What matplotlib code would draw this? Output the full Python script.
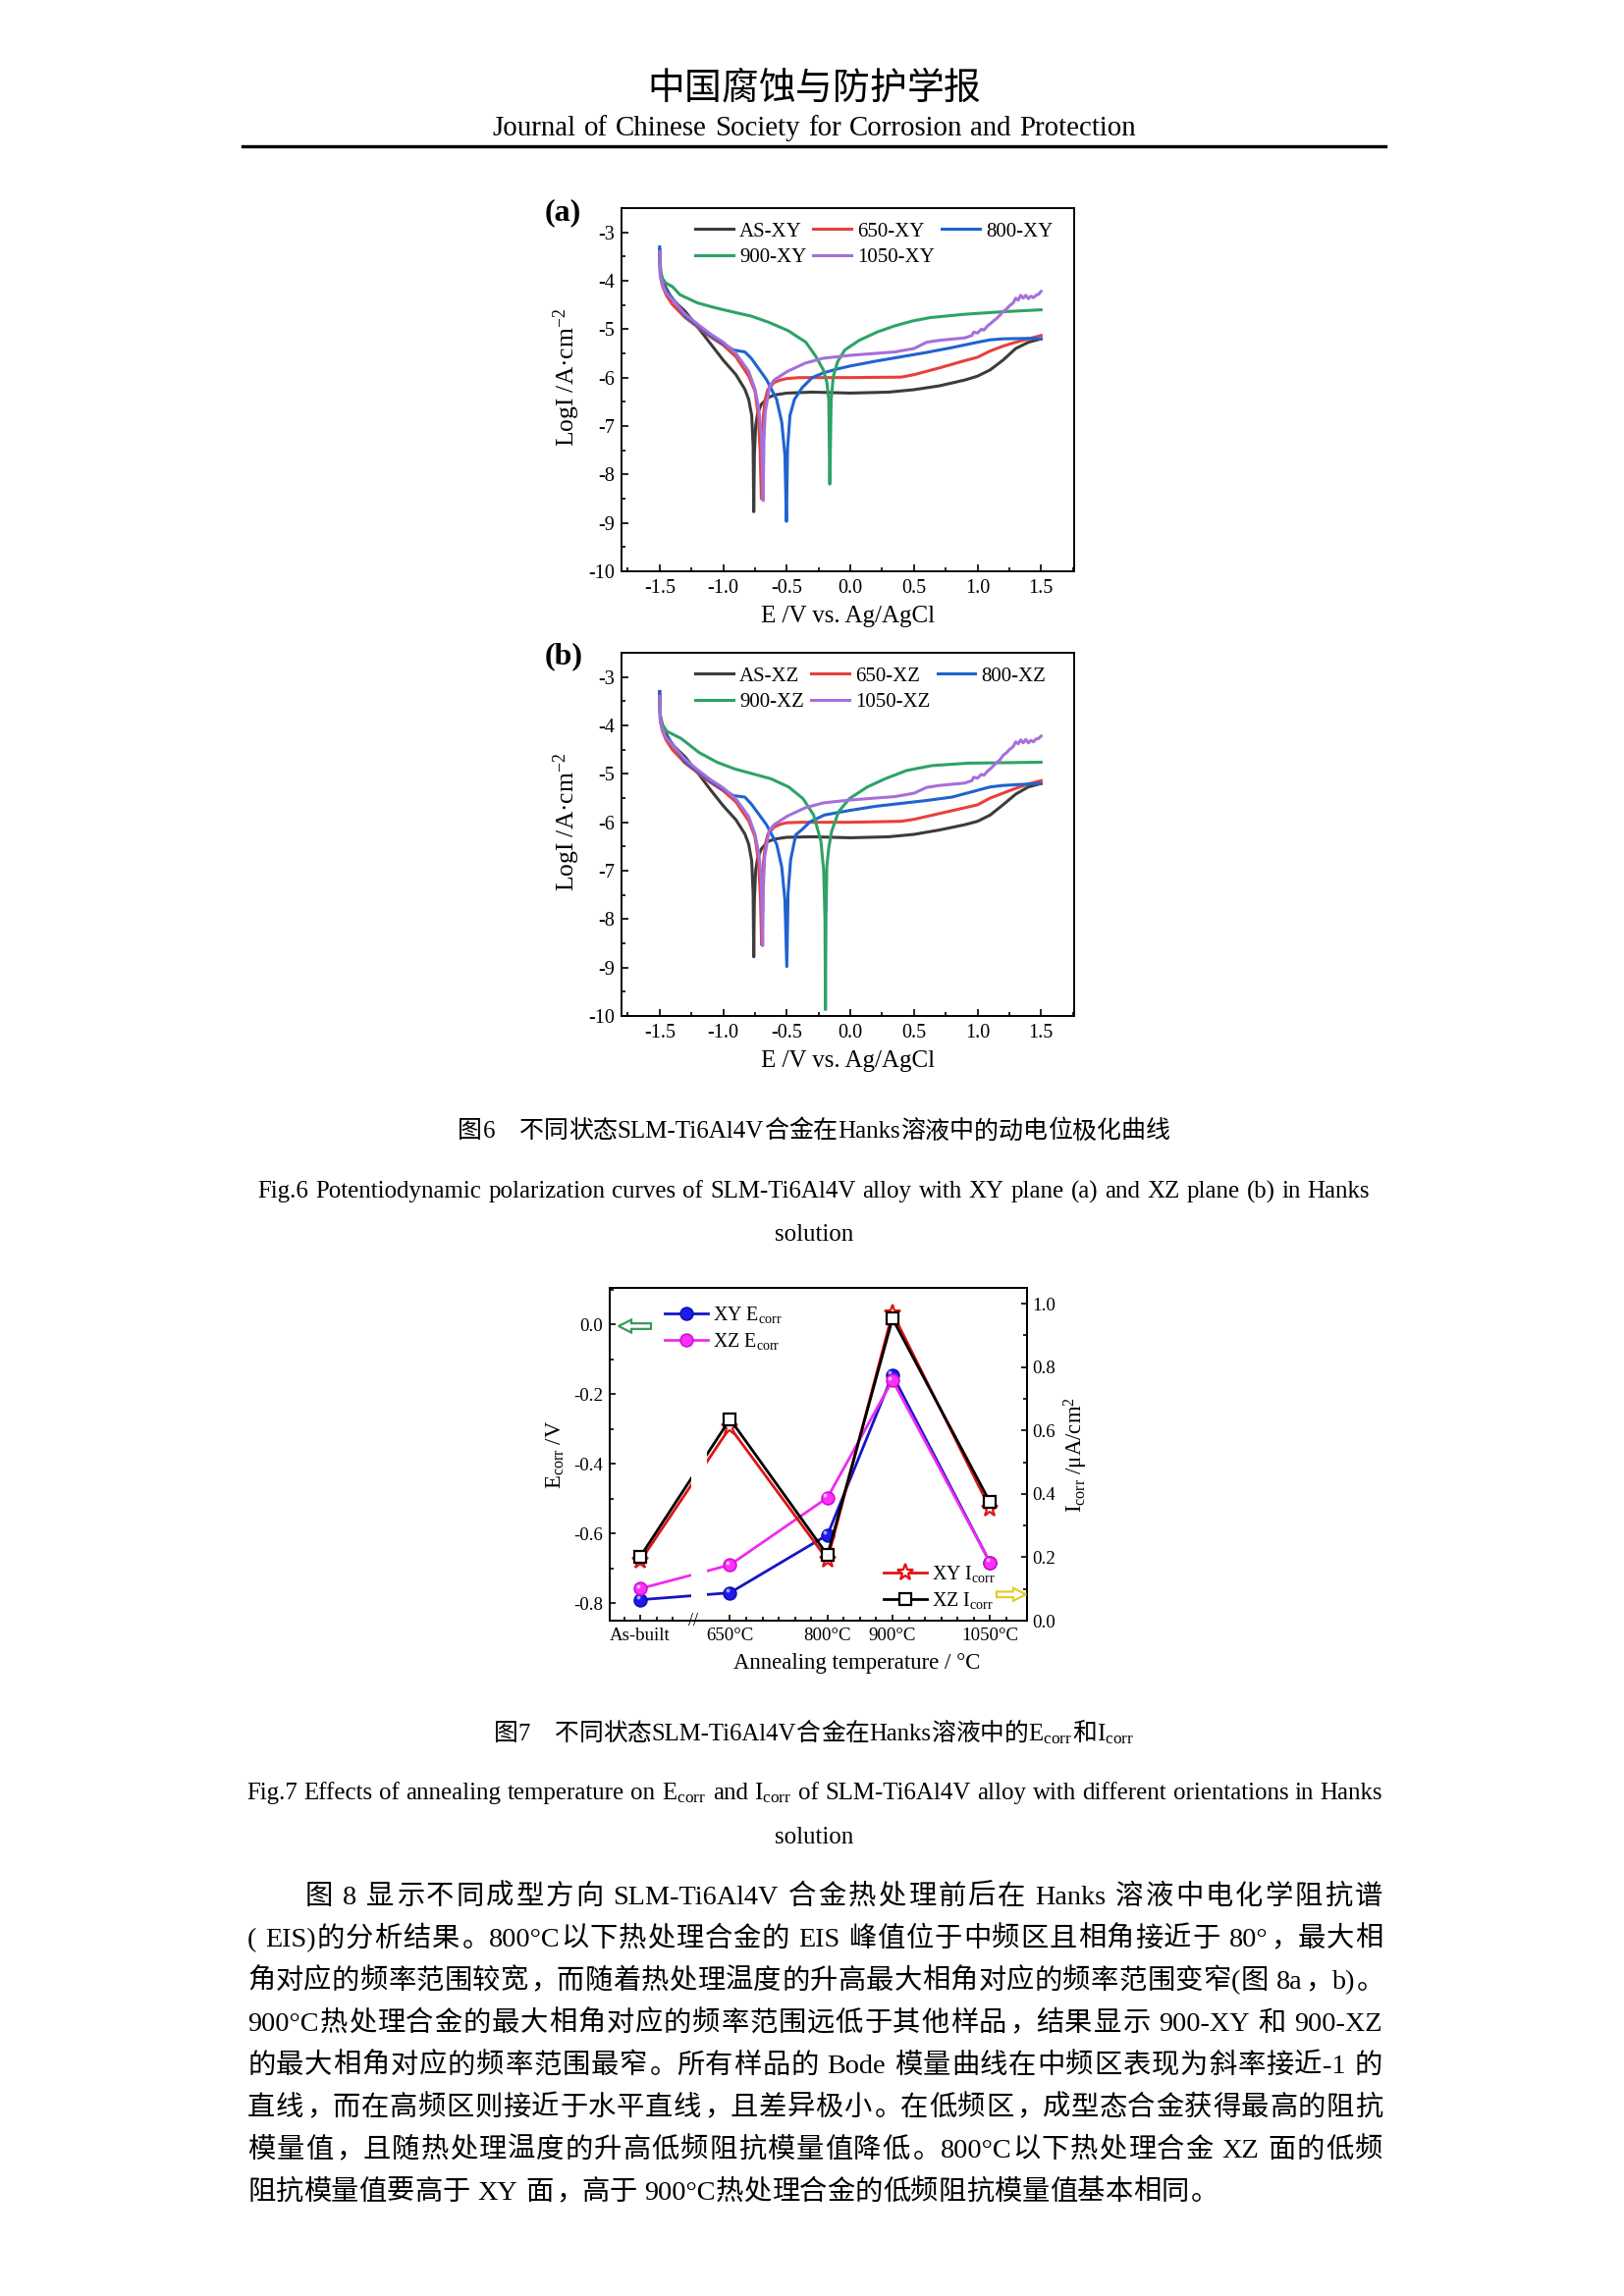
import matplotlib
matplotlib.use('Agg')
import matplotlib.pyplot as plt
from matplotlib.ticker import MultipleLocator, FixedLocator, FuncFormatter
from matplotlib.patches import FancyArrow
from matplotlib.lines import Line2D
import matplotlib.transforms as mtransforms

# ======================= DATA =======================
# Fig.6 (a) XY plane : potential E (V vs Ag/AgCl) and log current density
AS_XY_E = [-1.5, -1.495, -1.48, -1.45, -1.4, -1.3, -1.2, -1.1, -1.0, -0.9, -0.83, -0.8, -0.776, -0.765, -0.76,
           -0.755, -0.745, -0.73, -0.7, -0.65, -0.6, -0.5, -0.3, 0.0, 0.3, 0.5, 0.7, 0.9, 1.0, 1.1, 1.2, 1.3, 1.4, 1.5]
AS_XY_L = [-3.35, -3.8, -3.95, -4.15, -4.39, -4.63, -4.96, -5.3, -5.64, -5.94, -6.24, -6.45, -6.78, -7.4, -8.77,
           -7.6, -7.0, -6.75, -6.55, -6.42, -6.36, -6.32, -6.3, -6.32, -6.3, -6.25, -6.17, -6.05, -5.97, -5.84, -5.64,
           -5.4, -5.27, -5.2]

R650_XY_E = [-1.5, -1.495, -1.48, -1.45, -1.4, -1.3, -1.2, -1.1, -1.0, -0.9, -0.8, -0.75, -0.725, -0.71, -0.7,
             -0.695, -0.685, -0.67, -0.65, -0.6, -0.55, -0.5, -0.4, 0.0, 0.4, 0.5, 0.7, 0.9, 1.0, 1.1, 1.2, 1.3, 1.4, 1.5]
R650_XY_L = [-3.45, -3.9, -4.09, -4.29, -4.49, -4.76, -4.96, -5.16, -5.33, -5.57, -5.97, -6.28, -6.78, -7.5, -8.5,
             -7.5, -6.8, -6.45, -6.25, -6.1, -6.05, -6.02, -6.0, -6.0, -5.99, -5.94, -5.8, -5.65, -5.58, -5.45, -5.35,
             -5.27, -5.2, -5.13]

R800_XY_E = [-1.5, -1.495, -1.48, -1.45, -1.4, -1.3, -1.2, -1.1, -1.0, -0.92, -0.83, -0.78, -0.66, -0.58, -0.54,
             -0.515, -0.503, -0.494, -0.475, -0.44, -0.38, -0.3, -0.21, -0.1, 0.0, 0.2, 0.4, 0.6, 0.8, 1.0, 1.1, 1.2,
             1.4, 1.5]
R800_XY_L = [-3.3, -3.9, -4.02, -4.2, -4.36, -4.73, -4.93, -5.13, -5.3, -5.43, -5.47, -5.6, -6.04, -6.45, -6.92,
             -7.6, -8.97, -7.46, -6.78, -6.45, -6.21, -6.0, -5.9, -5.82, -5.76, -5.66, -5.57, -5.48, -5.38, -5.27,
             -5.22, -5.2, -5.19, -5.2]

R900_XY_E = [-1.5, -1.49, -1.48, -1.45, -1.4, -1.34, -1.2, -1.06, -0.9, -0.78, -0.64, -0.49, -0.35, -0.27, -0.213,
             -0.185, -0.17, -0.162, -0.151, -0.134, -0.1, -0.044, 0.07, 0.21, 0.35, 0.49, 0.63, 0.91, 1.2, 1.5]
R900_XY_L = [-3.5, -3.82, -3.95, -4.05, -4.12, -4.29, -4.46, -4.56, -4.66, -4.73, -4.86, -5.03, -5.27, -5.57, -5.84,
             -6.1, -6.45, -8.2, -6.45, -5.97, -5.67, -5.43, -5.23, -5.06, -4.93, -4.83, -4.76, -4.69, -4.64, -4.6]

R1050_XY_E = [-1.5, -1.495, -1.48, -1.45, -1.4, -1.3, -1.2, -1.1, -1.0, -0.9, -0.8, -0.75, -0.72, -0.7, -0.686,
              -0.68, -0.67, -0.635, -0.6, -0.494, -0.354, -0.213, 0.0, 0.35, 0.5, 0.6, 0.7, 0.9, 0.956, 0.97, 1.0,
              1.03, 1.05, 1.08, 1.1, 1.13, 1.15, 1.18, 1.2, 1.23, 1.25, 1.28, 1.3, 1.32, 1.34, 1.36, 1.38, 1.4, 1.42,
              1.44, 1.46, 1.48, 1.5]
R1050_XY_L = [-3.4, -3.9, -4.05, -4.25, -4.39, -4.69, -4.9, -5.1, -5.27, -5.5, -5.87, -6.24, -6.65, -7.19, -8.54,
              -7.32, -6.72, -6.18, -6.05, -5.87, -5.7, -5.6, -5.54, -5.47, -5.4, -5.27, -5.23, -5.18, -5.13, -5.06,
              -5.08, -5.0, -5.02, -4.93, -4.89, -4.82, -4.78, -4.7, -4.64, -4.58, -4.52, -4.46, -4.36, -4.4, -4.3,
              -4.36, -4.3, -4.37, -4.32, -4.35, -4.3, -4.28, -4.22]

# Fig.6 (b) XZ plane
AS_XZ_E = [-1.5, -1.495, -1.48, -1.45, -1.4, -1.3, -1.2, -1.1, -1.0, -0.9, -0.83, -0.8, -0.776, -0.765, -0.76,
           -0.755, -0.745, -0.73, -0.7, -0.65, -0.6, -0.5, -0.3, 0.0, 0.3, 0.5, 0.7, 0.9, 1.0, 1.1, 1.2, 1.3, 1.4, 1.5]
AS_XZ_L = [-3.3, -3.8, -3.97, -4.17, -4.4, -4.65, -4.98, -5.33, -5.66, -5.95, -6.24, -6.45, -6.8, -7.45, -8.78,
           -7.6, -7.0, -6.75, -6.55, -6.4, -6.35, -6.31, -6.3, -6.32, -6.3, -6.25, -6.16, -6.05, -5.98, -5.85, -5.64,
           -5.42, -5.27, -5.2]

R650_XZ_E = [-1.5, -1.495, -1.48, -1.45, -1.4, -1.3, -1.2, -1.1, -1.0, -0.9, -0.8, -0.75, -0.723, -0.708, -0.698,
             -0.693, -0.683, -0.668, -0.65, -0.6, -0.55, -0.5, -0.4, 0.0, 0.4, 0.5, 0.7, 0.9, 1.0, 1.1, 1.2, 1.3,
             1.4, 1.5]
R650_XZ_L = [-3.4, -3.9, -4.1, -4.3, -4.5, -4.78, -4.98, -5.18, -5.35, -5.58, -5.97, -6.3, -6.8, -7.5, -8.53,
             -7.5, -6.8, -6.45, -6.25, -6.1, -6.04, -6.01, -6.0, -6.0, -5.98, -5.94, -5.82, -5.7, -5.64, -5.5, -5.4,
             -5.3, -5.21, -5.14]

R800_XZ_E = [-1.5, -1.495, -1.48, -1.45, -1.4, -1.3, -1.2, -1.1, -1.0, -0.92, -0.83, -0.78, -0.66, -0.58, -0.54,
             -0.515, -0.5, -0.49, -0.47, -0.43, -0.38, -0.317, -0.204, -0.1, 0.007, 0.2, 0.4, 0.6, 0.8, 1.0, 1.1,
             1.2, 1.4, 1.5]
R800_XZ_L = [-3.3, -3.9, -4.03, -4.22, -4.38, -4.75, -4.95, -5.15, -5.32, -5.45, -5.48, -5.62, -6.05, -6.45,
             -6.92, -7.6, -8.98, -7.46, -6.78, -6.26, -6.15, -5.99, -5.85, -5.8, -5.75, -5.67, -5.61, -5.55, -5.48,
             -5.34, -5.27, -5.24, -5.21, -5.2]

R900_XZ_E = [-1.5, -1.497, -1.486, -1.444, -1.331, -1.19, -1.049, -0.908, -0.768, -0.627, -0.486, -0.373, -0.289,
             -0.232, -0.21, -0.2, -0.196, -0.192, -0.185, -0.17, -0.148, -0.092, -0.007, 0.134, 0.275, 0.444, 0.641,
             0.923, 1.2, 1.5]
R900_XZ_L = [-3.5, -3.75, -3.95, -4.12, -4.27, -4.56, -4.76, -4.9, -5.0, -5.1, -5.27, -5.51, -5.85, -6.39, -7.0,
             -8.0, -9.87, -8.0, -6.9, -6.53, -6.19, -5.78, -5.51, -5.27, -5.1, -4.93, -4.83, -4.78, -4.77, -4.76]

R1050_XZ_E = [-1.5, -1.495, -1.48, -1.45, -1.4, -1.3, -1.2, -1.1, -1.0, -0.9, -0.8, -0.75, -0.72, -0.7, -0.69,
              -0.684, -0.674, -0.64, -0.6, -0.494, -0.354, -0.213, 0.0, 0.35, 0.5, 0.6, 0.7, 0.9, 0.956, 0.97, 1.0,
              1.03, 1.05, 1.08, 1.1, 1.13, 1.15, 1.18, 1.2, 1.23, 1.25, 1.28, 1.3, 1.32, 1.34, 1.36, 1.38, 1.4, 1.42,
              1.44, 1.46, 1.48, 1.5]
R1050_XZ_L = [-3.4, -3.9, -4.06, -4.26, -4.4, -4.7, -4.92, -5.12, -5.29, -5.52, -5.88, -6.25, -6.65, -7.19, -8.55,
              -7.32, -6.72, -6.18, -6.05, -5.87, -5.7, -5.6, -5.54, -5.47, -5.4, -5.28, -5.24, -5.19, -5.14, -5.07,
              -5.09, -5.01, -5.03, -4.94, -4.9, -4.82, -4.77, -4.7, -4.62, -4.56, -4.5, -4.44, -4.34, -4.38, -4.3,
              -4.36, -4.29, -4.36, -4.31, -4.34, -4.28, -4.27, -4.22]

LABELS_XY = ['AS-XY', '650-XY', '800-XY', '900-XY', '1050-XY']
LABELS_XZ = ['AS-XZ', '650-XZ', '800-XZ', '900-XZ', '1050-XZ']

# Fig.7 : corrosion potential (V) and corrosion current density (uA/cm2)
STATES = ['As-built', '650°C', '800°C', '900°C', '1050°C']
ANNEAL_T = [650, 800, 900, 1050]
XY_ECORR = [-0.79, -0.77, -0.604, -0.145, -0.683]
XZ_ECORR = [-0.758, -0.69, -0.497, -0.16, -0.683]
XY_ICORR = [0.188, 0.61, 0.192, 0.971, 0.354]
XZ_ICORR = [0.202, 0.636, 0.207, 0.953, 0.374]

# ======================= PAGE TEXT =======================
HEAD_CN = '中国腐蚀与防护学报'
HEAD_EN = 'Journal of Chinese Society for Corrosion and Protection'
CAP6_CN = '图6\u3000不同状态SLM-Ti6Al4V合金在Hanks溶液中的动电位极化曲线'
CAP6_EN = 'Fig.6 Potentiodynamic polarization curves of SLM-Ti6Al4V alloy with XY plane (a) and XZ plane (b) in Hanks'
CAP7_CN = '图7\u3000不同状态SLM-Ti6Al4V合金在Hanks溶液中的E$_{\\mathregular{corr}}$和I$_{\\mathregular{corr}}$'
CAP7_EN = ('Fig.7 Effects of annealing temperature on E$_{\\mathregular{corr}}$ and I$_{\\mathregular{corr}}$ '
           'of SLM-Ti6Al4V alloy with different orientations in Hanks')
BODY = [
    '图 8 显示不同成型方向 SLM-Ti6Al4V 合金热处理前后在 Hanks 溶液中电化学阻抗谱',
    '( EIS)的分析结果。800°C以下热处理合金的 EIS 峰值位于中频区且相角接近于 80°，最大相',
    '角对应的频率范围较宽，而随着热处理温度的升高最大相角对应的频率范围变窄(图 8a，b)。',
    '900°C热处理合金的最大相角对应的频率范围远低于其他样品，结果显示 900-XY 和 900-XZ',
    '的最大相角对应的频率范围最窄。所有样品的 Bode 模量曲线在中频区表现为斜率接近-1 的',
    '直线，而在高频区则接近于水平直线，且差异极小。在低频区，成型态合金获得最高的阻抗',
    '模量值，且随热处理温度的升高低频阻抗模量值降低。800°C以下热处理合金 XZ 面的低频',
    '阻抗模量值要高于 XY 面，高于 900°C热处理合金的低频阻抗模量值基本相同。',
]

# ======================= STYLE / LAYOUT =======================
W, H, DPI = 1654, 2339, 200
plt.rcParams['font.family'] = ['Liberation Serif', 'Noto Sans CJK SC']
plt.rcParams['mathtext.fontset'] = 'custom'
plt.rcParams['mathtext.rm'] = 'Liberation Serif'
plt.rcParams['mathtext.it'] = 'Liberation Serif:italic'
plt.rcParams['mathtext.bf'] = 'Liberation Serif:bold'
plt.rcParams['axes.unicode_minus'] = False

LAT = ['Liberation Serif', 'Noto Sans CJK SC']
CJK = ['Noto Sans CJK SC', 'Liberation Serif']
COLORS = ['#3c3c3c', '#e8403c', '#1f63d0', '#2fa266', '#a66fda']

fig = plt.figure(figsize=(W / DPI, H / DPI), dpi=DPI)
fig.patch.set_facecolor('white')
renderer = fig.canvas.get_renderer()


def rect_px(x0, y0, x1, y1):
    return [x0 / W, 1 - y1 / H, (x1 - x0) / W, (y1 - y0) / H]


def is_cjk(ch):
    o = ord(ch)
    return (0x2E80 <= o <= 0x9FFF) or (0x3000 <= o <= 0x303F) or (0xFF00 <= o <= 0xFFEF)


PUNCT_LEFT = '，。、；：！？'


def tokenize(s):
    units, buf, buf_sp, pending = [], '', False, False
    for ch in s:
        if ch == ' ':
            if buf:
                units.append([buf, 'lat', buf_sp])
                buf = ''
            pending = True
        elif is_cjk(ch):
            if buf:
                units.append([buf, 'lat', buf_sp])
                buf = ''
            units.append([ch, 'cjk', pending])
            pending = False
        else:
            if not buf:
                buf_sp = pending
                pending = False
            buf += ch
    if buf:
        units.append([buf, 'lat', buf_sp])
    return units


def make_items(s, size, weight='normal'):
    em = size * DPI / 72.0
    items = []
    for tok, kind, sp in tokenize(s):
        if kind == 'cjk':
            t = fig.text(0, 0, tok, fontsize=size, family=CJK, va='baseline', ha='center', fontweight=weight)
            w = em
        else:
            t = fig.text(0, 0, tok, fontsize=size, family=LAT, va='baseline', ha='left', fontweight=weight)
            w = t.get_window_extent(renderer).width
        items.append((t, kind, sp, w, tok))
    return items, em


def natural_width(s, size):
    items, em = make_items(s, size)
    sp_w = 0.28 * em
    tot = sum(it[3] for it in items) + sum(sp_w for it in items[1:] if it[2])
    for it in items:
        it[0].remove()
    return tot


def fit_size(s, target, s0=10.0):
    return s0 * target / natural_width(s, s0)


def text_line(s, size, y_c, x0=None, x1=None, center=None, justify=False, weight='normal'):
    items, em = make_items(s, size, weight)
    sp_w = 0.28 * em
    base = sum(it[3] for it in items) + sum(sp_w for it in items[1:] if it[2])
    n = max(len(items) - 1, 1)
    if justify:
        extra = (x1 - x0 - base) / n
        x = x0
    elif center is not None:
        extra = 0.0
        x = center - base / 2
    else:
        extra = 0.0
        x = x0
    yb = 1 - (y_c + 0.34 * em) / H
    for i, (t, kind, sp, w, tok) in enumerate(items):
        if i > 0:
            x += extra + (sp_w if sp else 0.0)
        if kind == 'cjk':
            if tok in PUNCT_LEFT:
                t.set_ha('left')
                t.set_position(((x + 0.08 * em) / W, yb))
            else:
                t.set_position(((x + w / 2) / W, yb))
        else:
            t.set_position((x / W, yb))
        x += w


# ======================= HEADER =======================
PAGE_C = 829
text_line(HEAD_CN, 13.6, 88, center=PAGE_C, weight='light')
text_line(HEAD_EN, fit_size(HEAD_EN, 655), 128, center=PAGE_C)
fig.add_artist(Line2D([247 / W, 1411 / W], [1 - 149 / H, 1 - 149 / H], lw=1.2, color='black'))


# ======================= FIG.6 =======================
def fmt1(v, p):
    return '0.0' if abs(v) < 1e-9 else '%.1f' % v


def polar_panel(rect, series, labels, tag, tag_xy):
    ax = fig.add_axes(rect)
    handles = []
    for (E, L), lab, col in zip(series, labels, COLORS):
        h, = ax.plot(E, L, color=col, lw=1.1, label=lab, solid_joinstyle='round')
        handles.append(h)
    ax.set_xlim(-1.8, 1.76)
    ax.set_ylim(-10, -2.5)
    ax.xaxis.set_major_locator(MultipleLocator(0.5))
    ax.xaxis.set_minor_locator(MultipleLocator(0.25))
    ax.yaxis.set_major_locator(MultipleLocator(1))
    ax.yaxis.set_minor_locator(MultipleLocator(0.5))
    ax.xaxis.set_major_formatter(FuncFormatter(fmt1))
    ax.yaxis.set_major_formatter(FuncFormatter(lambda v, p: '%d' % round(v)))
    ax.tick_params(which='both', direction='in', top=False, right=False, width=0.6, labelsize=7.3)
    ax.tick_params(which='major', length=2.6)
    ax.tick_params(which='minor', length=1.5)
    ax.tick_params(axis='x', pad=3.0)
    ax.tick_params(axis='y', pad=2.6)
    for sp in ax.spines.values():
        sp.set_linewidth(0.7)
    ax.set_xlabel('E /V vs. Ag/AgCl', fontsize=9.0, labelpad=2.6)
    ax.set_ylabel('LogI /A·cm$^{\\mathregular{-2}}$', fontsize=9.2, labelpad=2.2)
    ax.yaxis.label.set_y(0.535)
    order = [0, 3, 1, 4, 2]
    ax.legend([handles[i] for i in order], [labels[i] for i in order], ncol=3, loc='upper left',
              bbox_to_anchor=(0.163, 0.962), frameon=False, fontsize=7.5, handlelength=1.85,
              handletextpad=0.3, columnspacing=0.35, labelspacing=0.32, borderpad=0, borderaxespad=0)
    fig.text(tag_xy[0] / W, 1 - tag_xy[1] / H, tag, fontsize=11.5, fontweight='bold', family=LAT,
             ha='center', va='center')
    return ax


polar_panel(rect_px(633, 212, 1094, 582),
            [(AS_XY_E, AS_XY_L), (R650_XY_E, R650_XY_L), (R800_XY_E, R800_XY_L),
             (R900_XY_E, R900_XY_L), (R1050_XY_E, R1050_XY_L)], LABELS_XY, '(a)', (573, 217))
polar_panel(rect_px(633, 665, 1094, 1035),
            [(AS_XZ_E, AS_XZ_L), (R650_XZ_E, R650_XZ_L), (R800_XZ_E, R800_XZ_L),
             (R900_XZ_E, R900_XZ_L), (R1050_XZ_E, R1050_XZ_L)], LABELS_XZ, '(b)', (574, 669))

cap_cn_size = fit_size(CAP6_CN, 725)
text_line(CAP6_CN, cap_cn_size, 1151, center=PAGE_C)
cap_en_size = fit_size(CAP6_EN, 1129)
text_line(CAP6_EN, cap_en_size, 1212, center=PAGE_C)
text_line('solution', cap_en_size, 1256, center=PAGE_C)

# ======================= FIG.7 =======================
ASBUILT_POS = 512
xs = [ASBUILT_POS] + ANNEAL_T
ax = fig.add_axes(rect_px(621, 1312, 1046, 1651))
ax2 = ax.twinx()

ax.plot(xs, XY_ECORR, '-o', color='#1414c8', mfc='#1c1cf0', mec='#1010b0', ms=4.6, mew=0.6, lw=1.0,
        label='XY E$_{\\mathregular{corr}}$', zorder=2)
ax.plot(xs, XZ_ECORR, '-o', color='#ee2cee', mfc='#ff2eff', mec='#d010d0', ms=4.6, mew=0.6, lw=1.0,
        label='XZ E$_{\\mathregular{corr}}$', zorder=2.1)
hl = mtransforms.ScaledTranslation(-0.9 / 72, 0.9 / 72, fig.dpi_scale_trans)
ax.plot(xs, XY_ECORR, 'o', ms=1.4, color='#a8a8ff', mec='none', transform=ax.transData + hl, zorder=2.05)
ax.plot(xs, XZ_ECORR, 'o', ms=1.4, color='#ffc0ff', mec='none', transform=ax.transData + hl, zorder=2.15)

ax2.plot(xs, XY_ICORR, '-*', color='#e01414', mfc='white', mec='#e01414', ms=6.2, mew=0.8, lw=1.0,
         label='XY I$_{\\mathregular{corr}}$', zorder=2)
ax2.plot(xs, XZ_ICORR, '-s', color='black', mfc='white', mec='black', ms=4.0, mew=0.8, lw=1.0,
         label='XZ I$_{\\mathregular{corr}}$', zorder=2.1)

ax.set_xlim(465, 1107)
ax.set_ylim(-0.85, 0.105)
ax2.set_ylim(0, 1.05)

ax.xaxis.set_major_locator(FixedLocator(xs))
ax.set_xticklabels(STATES)
ax.xaxis.set_minor_locator(FixedLocator([487, 537, 562] + [t for t in range(675, 1100, 25) if t not in ANNEAL_T]))
ax.yaxis.set_major_locator(MultipleLocator(0.2))
ax.yaxis.set_minor_locator(MultipleLocator(0.1))
ax.yaxis.set_major_formatter(FuncFormatter(fmt1))
ax2.yaxis.set_major_locator(MultipleLocator(0.2))
ax2.yaxis.set_minor_locator(MultipleLocator(0.1))
ax2.yaxis.set_major_formatter(FuncFormatter(fmt1))

ax.tick_params(which='both', direction='in', top=False, right=False, width=0.6, labelsize=6.8)
ax.tick_params(which='major', length=2.0)
ax.tick_params(which='minor', length=1.5)
ax.tick_params(axis='x', pad=2.6)
ax.tick_params(axis='y', pad=2.4)
ax2.tick_params(which='both', direction='in', left=False, right=True, width=0.6, labelsize=6.8, pad=1.8)
ax2.tick_params(which='major', length=2.0)
ax2.tick_params(which='minor', length=1.5)
for a in (ax, ax2):
    for sp in a.spines.values():
        sp.set_linewidth(0.7)

ax.set_xlabel('Annealing temperature / °C', fontsize=8.2, labelpad=3.0)
ax.xaxis.label.set_x(0.593)
ax.set_ylabel('E$_{\\mathregular{corr}}$ /V', fontsize=8.2, labelpad=2.5)
ax2.set_ylabel('I$_{\\mathregular{corr}}$ /μA/cm$^{\\mathregular{2}}$', fontsize=8.2, labelpad=2.5)

# axis-break gap and marks
ax2.axvspan(590, 614, ymin=0.03, ymax=0.75, color='white', lw=0, zorder=2.3)
brk = mtransforms.blended_transform_factory(ax.transData, ax.transAxes)
ax2.text(594, 0.0, '//', transform=brk, ha='center', va='center', fontsize=6.5, family=LAT, zorder=6)

ax.legend(loc='upper left', bbox_to_anchor=(0.132, 0.95), frameon=False, fontsize=7.2, handlelength=2.2,
          handletextpad=0.25, labelspacing=0.3, borderpad=0, borderaxespad=0)
ax2.legend(loc='upper left', bbox_to_anchor=(0.656, 0.172), frameon=False, fontsize=7.2, handlelength=2.2,
           handletextpad=0.25, labelspacing=0.3, borderpad=0, borderaxespad=0)

# hollow pointer arrows (left axis / right axis)
ax2.add_patch(FancyArrow(0.0988, 0.885, -0.0776, 0, width=0.0168, head_width=0.0384, head_length=0.0306,
                         length_includes_head=True, transform=ax2.transAxes, fc='white', ec='#3a9a5a',
                         lw=0.8, clip_on=False, zorder=5))
ax2.add_patch(FancyArrow(0.927, 0.0788, 0.0706, 0, width=0.0168, head_width=0.0384, head_length=0.0306,
                         length_includes_head=True, transform=ax2.transAxes, fc='white', ec='#e6cc2a',
                         lw=0.8, clip_on=False, zorder=5))

text_line(CAP7_CN, fit_size(CAP7_CN, 652), 1765, center=PAGE_C)
text_line(CAP7_EN, cap_en_size, 1825, x0=251, x1=1408, justify=True)
text_line('solution', cap_en_size, 1870, center=PAGE_C)

# ======================= BODY TEXT =======================
BODY_SIZE = 10.2
LINE_Y0, LINE_DY = 1930, 43.0
LEFT, RIGHT = 252, 1408
indent = 2 * BODY_SIZE * DPI / 72.0 + 2
for i, line in enumerate(BODY):
    y = LINE_Y0 + i * LINE_DY
    if i == 0:
        text_line(line, BODY_SIZE, y, x0=LEFT + indent, x1=RIGHT, justify=True)
    elif i == len(BODY) - 1:
        text_line(line, BODY_SIZE, y, x0=LEFT)
    else:
        text_line(line, BODY_SIZE, y, x0=LEFT, x1=RIGHT, justify=True)

fig.savefig('out.png', dpi=DPI, facecolor='white')
